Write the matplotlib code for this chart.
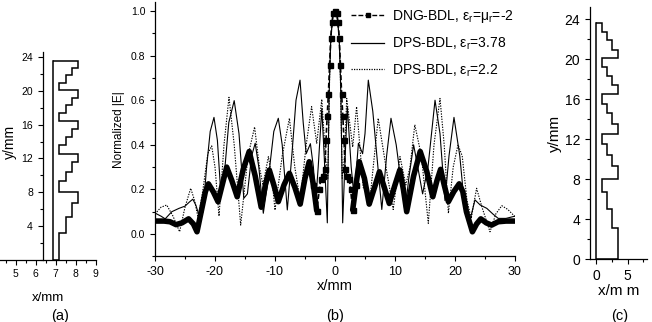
import numpy as np
import matplotlib
matplotlib.use('Agg')
import matplotlib.pyplot as plt
from matplotlib.lines import Line2D
from matplotlib.ticker import MultipleLocator

plt.rcParams['font.family'] = ['Liberation Sans', 'DejaVu Sans']
plt.rcParams['mathtext.fontset'] = 'custom'
plt.rcParams['mathtext.rm'] = 'Liberation Sans'
plt.rcParams['axes.unicode_minus'] = False

# layer boundaries (y, mm) shared by the two lens profiles
edges = [0, 3.15, 5.05, 6.7, 8.05, 9.3, 10.45, 11.55, 12.55, 13.55, 14.6,
         15.5, 16.5, 17.4, 18.35, 19.2, 20.1, 20.95, 21.9, 22.75, 23.6]
# panel (a): outer x of each layer, bottom to top
prof_a = [7.19, 7.525, 7.81, 8.14] * 5
base_a = 6.86
# panel (c): outer x of each layer, bottom to top
prof_c = [3.55, 2.6, 1.8, 0.9] * 5
base_c = 0.0

# panel (b): normalized |E| along x
x_dng = [-30, -28.5, -27.5, -26.5, -25.5, -24.4, -23.6, -23.0, -22.3, -21.6, -21.1,
         -20.3, -19.5, -18.8, -18.05, -17.2, -16.3, -15.3, -14.3, -13.3, -12.3,
         -11.6, -10.95, -10.2, -9.45, -8.5, -7.6, -6.7, -5.8, -5.0, -4.3,
         -3.6, -3.05, -2.6, -2.4, -2.0, -1.7, -1.5, -1.3, -1.1, -0.9,
         -0.7, -0.5, -0.3, 0,
         0.3, 0.5, 0.7, 0.9, 1.1, 1.3, 1.5, 1.7, 2.0, 2.4,
         2.6, 2.95, 3.5, 4.05, 4.9, 5.7, 6.6, 7.4, 8.2, 9.05,
         10.0, 10.8, 11.4, 11.95, 13.1, 14.2, 15.3, 16.3, 17.0, 17.6,
         18.2, 18.9, 19.8, 20.7, 21.3, 21.9, 22.9, 23.6, 24.3, 25.2, 26.1,
         27.2, 28.5, 30]
y_dng = [0.058, 0.058, 0.055, 0.042, 0.05, 0.068, 0.045, 0.01, 0.1, 0.19, 0.225,
         0.19, 0.145, 0.22, 0.30, 0.24, 0.167, 0.29, 0.37, 0.26, 0.12,
         0.22, 0.287, 0.22, 0.145, 0.22, 0.272, 0.21, 0.134, 0.25, 0.324,
         0.22, 0.105, 0.2, 0.245, 0.26, 0.29, 0.42, 0.53, 0.63, 0.76,
         0.88, 0.95, 0.99, 1.0,
         0.99, 0.95, 0.88, 0.76, 0.63, 0.53, 0.42, 0.29, 0.26, 0.245,
         0.2, 0.108, 0.22, 0.324, 0.25, 0.134, 0.21, 0.279, 0.21, 0.137,
         0.22, 0.287, 0.2, 0.10, 0.26, 0.37, 0.28, 0.167, 0.24, 0.29,
         0.22, 0.145, 0.19, 0.225, 0.19, 0.1, 0.01, 0.045, 0.068, 0.05, 0.04,
         0.055, 0.058, 0.058]

x_378 = [-30, -29, -28.3, -27.2, -26, -25.0, -24.2, -23.7, -23.2, -22.5,
         -22.0, -21.4, -20.8, -20.17, -19.6, -19.0, -18.5, -17.7, -16.8, -16.0,
         -15.2, -14.6, -13.9, -13.3, -12.7, -11.95, -11.1, -10.2, -9.45, -8.8,
         -7.95, -7.2, -6.5, -5.83, -5.3, -4.8, -4.1, -3.6, -3.2, -2.8,
         -2.2, -1.8, -1.28, -1.1, -0.95, -0.7, -0.35, 0,
         0.35, 0.7, 0.95, 1.1, 1.28, 1.7, 2.05, 2.7, 3.2, 3.9,
         4.6, 5.0, 5.55, 6.3, 7.8, 8.6, 9.33, 10.2, 11.67, 12.3,
         13.1, 13.8, 14.6, 15.5, 16.67, 17.5, 18.33, 19.0, 19.83, 20.8,
         21.5, 22.5, 23.33, 24.2, 25.3, 26.3, 27.2, 28.5, 30]
y_378 = [0.094, 0.08, 0.068, 0.10, 0.115, 0.125, 0.145, 0.156, 0.13, 0.07,
         0.1, 0.3, 0.46, 0.523, 0.42, 0.17, 0.25, 0.5, 0.598, 0.45,
         0.16, 0.18, 0.35, 0.407, 0.3, 0.093, 0.25, 0.46, 0.519, 0.4,
         0.108, 0.35, 0.6, 0.69, 0.5, 0.36, 0.405, 0.3, 0.15, 0.3,
         0.563, 0.35, 0.05, 0.4, 0.66, 0.88, 0.98, 1.0,
         0.98, 0.88, 0.66, 0.4, 0.05, 0.35, 0.571, 0.3, 0.16, 0.407,
         0.36, 0.45, 0.69, 0.55, 0.11, 0.35, 0.519, 0.4, 0.10, 0.25,
         0.40, 0.3, 0.18, 0.3, 0.6, 0.45, 0.15, 0.35, 0.523, 0.35,
         0.15, 0.063, 0.153, 0.13, 0.115, 0.09, 0.07, 0.07, 0.08]

x_22 = [-30, -29, -28.05, -27, -25.9, -25, -24.05, -23.4, -22.8, -22.0,
        -21.2, -20.55, -20.0, -19.33, -18.5, -17.67, -16.8, -15.72, -14.5, -13.4,
        -12.6, -12.0, -11.1, -10.5, -10.0, -8.8, -7.6, -6.7, -5.8, -4.8,
        -3.9, -3.05, -2.2, -1.6, -1.2, -0.9, -0.7, -0.35, 0,
        0.35, 0.7, 0.9, 1.2, 1.6, 1.95, 2.95, 3.6, 4.7, 5.8,
        7.2, 8.5, 9.7, 10.83, 11.8, 12.5, 13.3, 14.4, 15.55, 16.5,
        17.5, 18.2, 18.9, 19.7, 20.5, 21.2, 22.0, 22.7, 23.6, 24.5,
        25.83, 26.8, 27.8, 28.8, 30]
y_22 = [0.09, 0.12, 0.13, 0.08, 0.01, 0.12, 0.205, 0.15, 0.07, 0.2,
        0.36, 0.395, 0.3, 0.08, 0.4, 0.613, 0.4, 0.04, 0.35, 0.48,
        0.3, 0.22, 0.347, 0.25, 0.107, 0.35, 0.519, 0.3, 0.15, 0.4,
        0.571, 0.407, 0.604, 0.35, 0.25, 0.7, 0.88, 0.98, 1.0,
        0.98, 0.88, 0.7, 0.25, 0.35, 0.608, 0.39, 0.571, 0.21, 0.15,
        0.519, 0.3, 0.11, 0.347, 0.22, 0.3, 0.49, 0.35, 0.048, 0.4,
        0.608, 0.4, 0.093, 0.3, 0.40, 0.35, 0.15, 0.07, 0.205, 0.12,
        0.01, 0.09, 0.127, 0.11, 0.078]

W, H = 652, 322
fig = plt.figure(figsize=(W / 100, H / 100), dpi=100)


def px_axes(left, right, top, bottom):
    return fig.add_axes([left / W, 1 - bottom / H, (right - left) / W, (bottom - top) / H])


def style(ax):
    ax.spines['top'].set_visible(False)
    ax.spines['right'].set_visible(False)
    for s in ('left', 'bottom'):
        ax.spines[s].set_linewidth(0.9)
    ax.tick_params(which='major', direction='out', length=3.5, width=0.8)
    ax.tick_params(which='minor', direction='out', length=2, width=0.8)


# ---- (a)
ax_a = px_axes(0, 96, 51.5, 259.5)
style(ax_a)
ax_a.stairs(prof_a, edges, orientation='horizontal', baseline=base_a, color='k', lw=1.1)
ax_a.plot([base_a, base_a], [edges[0], edges[-1]], color='k', lw=1.1)
ax_a.set_xlim(4.225, 9.025)
ax_a.set_ylim(0, 24.7)
ax_a.spines['left'].set_position(('data', 6.36))
ax_a.xaxis.set_major_locator(MultipleLocator(1))
ax_a.xaxis.set_minor_locator(MultipleLocator(0.5))
ax_a.yaxis.set_minor_locator(MultipleLocator(2))
ax_a.set_yticks([4, 8, 12, 16, 20, 24])
ax_a.tick_params(labelsize=7.5)
ax_a.set_xlabel('x/mm', fontsize=9.5, labelpad=9)
fig.text(10 / W, 1 - 142 / H, 'y/mm', rotation=90, fontsize=10, ha='center', va='center')
fig.text(60 / W, 1 - 309 / H, '(a)', fontsize=10.5, ha='center', va='top')

# ---- (b)
ax_b = px_axes(155, 515, 2.1, 256.3)
style(ax_b)
x_dng_a = np.array(x_dng)
y_dng_a = np.array(y_dng)
core = np.abs(x_dng_a) <= 3.6
ax_b.plot(x_22, y_22, color='k', lw=0.8, ls=(0, (1.2, 1.2)))
ax_b.plot(x_378, y_378, color='k', lw=0.8)
ax_b.plot(np.where(x_dng_a <= -3.05, x_dng_a, np.nan), y_dng_a, color='k', lw=4,
          solid_capstyle='round', solid_joinstyle='round')
ax_b.plot(np.where(x_dng_a >= 2.95, x_dng_a, np.nan), y_dng_a, color='k', lw=4,
          solid_capstyle='round', solid_joinstyle='round')
ax_b.plot(x_dng_a[core], y_dng_a[core], color='k', lw=1.2, ls=(0, (3, 1.5)),
          marker='s', ms=3.6, mec='k', mfc='k')
ax_b.set_xlim(-30, 30)
ax_b.set_ylim(-0.1, 1.04)
ax_b.xaxis.set_major_locator(MultipleLocator(10))
ax_b.xaxis.set_minor_locator(MultipleLocator(5))
ax_b.yaxis.set_minor_locator(MultipleLocator(0.1))
ax_b.set_yticks([0.0, 0.2, 0.4, 0.6, 0.8, 1.0])
ax_b.tick_params(axis='x', labelsize=9)
ax_b.tick_params(axis='y', labelsize=7.5)
ax_b.set_xlabel('x/mm', fontsize=10.5, labelpad=1)
ax_b.set_ylabel('Normalized |E|', fontsize=8.5, labelpad=4)

handles = [
    Line2D([], [], color='k', lw=1, ls=(0, (3.5, 1.5)), marker='s', ms=3.5),
    Line2D([], [], color='k', lw=0.9),
    Line2D([], [], color='k', lw=0.9, ls=(0, (1, 1))),
]
labels = [r'DNG-BDL, ε$_{\rm r}$=μ$_{\rm r}$=-2',
          r'DPS-BDL, ε$_{\rm r}$=3.78',
          r'DPS-BDL, ε$_{\rm r}$=2.2']
fig.legend(handles, labels, loc='upper left', bbox_to_anchor=(351 / W, 1 - 8 / H),
           frameon=False, fontsize=10, handlelength=2.4, handletextpad=0.55,
           labelspacing=0.75, borderpad=0, borderaxespad=0)
fig.text(335 / W, 1 - 309 / H, '(b)', fontsize=10.5, ha='center', va='top')

# ---- (c)
ax_c = px_axes(590, 646.6, 7, 259.3)
style(ax_c)
ax_c.stairs(prof_c, edges, orientation='horizontal', baseline=base_c, color='k', lw=1.1)
ax_c.plot([base_c, base_c], [edges[0], edges[-1]], color='k', lw=1.1)
ax_c.set_xlim(-0.95, 8.0)
ax_c.set_ylim(0, 25.2)
ax_c.set_xticks([0, 5])
ax_c.xaxis.set_minor_locator(MultipleLocator(2.5))
ax_c.yaxis.set_major_locator(MultipleLocator(4))
ax_c.yaxis.set_minor_locator(MultipleLocator(2))
ax_c.tick_params(labelsize=10)
ax_c.set_xlabel('x/m m', fontsize=11, labelpad=1)
ax_c.set_ylabel('y/mm', fontsize=11, labelpad=2)
fig.text(620 / W, 1 - 309 / H, '(c)', fontsize=10.5, ha='center', va='top')

fig.savefig('out.png', dpi=100)
